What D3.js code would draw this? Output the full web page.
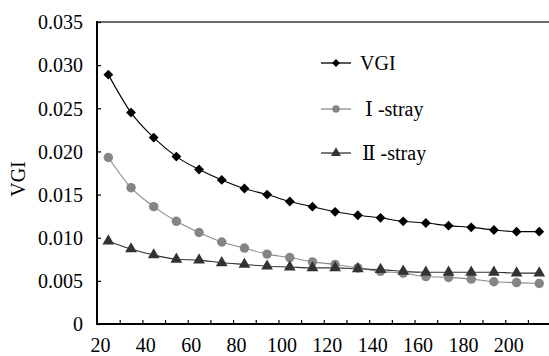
<!DOCTYPE html>
<html>
<head>
<meta charset="utf-8">
<script src="https://cdn.jsdelivr.net/npm/d3@7"></script>
<style>
  html, body { margin: 0; padding: 0; background: #fff; }
  svg { display: block; }
  text { font-family: "Liberation Serif", "Times New Roman", "DejaVu Serif", serif; fill: #000; }
</style>
</head>
<body>
<svg id="chart" width="549" height="356"></svg>
<script>
const xValues = [25, 35, 45, 55, 65, 75, 85, 95, 105, 115, 125, 135, 145, 155, 165, 175, 185, 195, 205, 215];
const vgi     = [0.0289, 0.0245, 0.0216, 0.0194, 0.0179, 0.0167, 0.0157, 0.0150, 0.0142, 0.0136, 0.0130, 0.0126, 0.0123, 0.0119, 0.0117, 0.0114, 0.0112, 0.0109, 0.0107, 0.0107];
const stray1  = [0.0193, 0.0158, 0.0136, 0.0119, 0.0106, 0.0095, 0.0088, 0.0081, 0.0077, 0.0072, 0.0069, 0.0065, 0.0061, 0.0059, 0.0055, 0.0054, 0.0052, 0.0049, 0.0048, 0.0047];
const stray2  = [0.0096, 0.0087, 0.0080, 0.0075, 0.0074, 0.0071, 0.0069, 0.0067, 0.0066, 0.0065, 0.0065, 0.0064, 0.0063, 0.0061, 0.0060, 0.0060, 0.0060, 0.0060, 0.0059, 0.0059];
const seriesNames = ["VGI", "\u2160 -stray", "\u2161 -stray"];
const yTicks = [0, 0.005, 0.010, 0.015, 0.020, 0.025, 0.030, 0.035];
const yTickLabels = ["0", "0.005", "0.010", "0.015", "0.020", "0.025", "0.030", "0.035"];
const xMinorTicks = d3.range(30, 220, 10);
const xLabelTicks = [20, 40, 60, 80, 100, 120, 140, 160, 180, 200];
const yTitle = "VGI";

const svg = d3.select("#chart");
const plotLeft = 97, plotTop = 22, plotBottom = 324;
const x = d3.scaleLinear().domain([20, 220]).range([plotLeft, plotLeft + 200 * 2.268]);
const y = d3.scaleLinear().domain([0, 0.035]).range([plotBottom, plotTop]);

// top border
svg.append("line").attr("x1", plotLeft).attr("x2", 549).attr("y1", plotTop).attr("y2", plotTop)
  .attr("stroke", "#3a3a3a").attr("stroke-width", 1.6);

// Y axis
const yAxis = svg.append("g").attr("transform", `translate(${plotLeft},0)`)
  .call(d3.axisLeft(y).tickValues(yTicks).tickSize(-4).tickPadding(14)
    .tickFormat((d, i) => yTickLabels[i]));
yAxis.select(".domain").remove();
yAxis.selectAll(".tick line").attr("stroke", "#000").attr("stroke-width", 1.2);
yAxis.selectAll(".tick text").attr("font-size", 20).attr("dy", "0.34em")
  .style("font-family", '"Liberation Serif", "Times New Roman", serif');
svg.append("line").attr("x1", plotLeft).attr("x2", plotLeft).attr("y1", plotTop - 1).attr("y2", plotBottom + 1)
  .attr("stroke", "#000").attr("stroke-width", 2);

// X axis
const xAxis = svg.append("g").attr("transform", `translate(0,${plotBottom})`)
  .call(d3.axisBottom(x).tickValues(xMinorTicks).tickSize(-4).tickFormat(""));
xAxis.select(".domain").remove();
xAxis.selectAll(".tick line").attr("stroke", "#000").attr("stroke-width", 1.2);
const xLab = svg.append("g").attr("transform", `translate(0,${plotBottom})`)
  .call(d3.axisBottom(x).tickValues(xLabelTicks).tickSize(0).tickPadding(14).tickFormat(d3.format("d")));
xLab.select(".domain").remove();
xLab.selectAll(".tick text").attr("font-size", 20).attr("dx", 3)
  .style("font-family", '"Liberation Serif", "Times New Roman", serif');
svg.append("line").attr("x1", plotLeft - 1).attr("x2", 549).attr("y1", plotBottom).attr("y2", plotBottom)
  .attr("stroke", "#000").attr("stroke-width", 2);

// Y title
svg.append("text").attr("transform", "translate(25,179) rotate(-90)")
  .attr("text-anchor", "middle").attr("font-size", 20).text(yTitle);

const line = d3.line().x(d => x(d[0])).y(d => y(d[1])).curve(d3.curveMonotoneX);
const styles = [
  { data: vgi, color: "#000", lineColor: "#000", shape: d3.symbolDiamond2, size: 62, lsize: 40 },
  { data: stray1, color: "#858585", lineColor: "#8a8a8a", shape: d3.symbolCircle, size: 70, lsize: 42 },
  { data: stray2, color: "#333", lineColor: "#333", shape: d3.symbolTriangle, size: 60, lsize: 44 }
];

styles.forEach(s => {
  const pts = xValues.map((xv, i) => [xv, s.data[i]]);
  svg.append("path").datum(pts).attr("d", line).attr("fill", "none")
    .attr("stroke", s.lineColor).attr("stroke-width", 1.1);
});
styles.forEach(s => {
  const pts = xValues.map((xv, i) => [xv, s.data[i]]);
  svg.append("g").selectAll("path").data(pts).join("path")
    .attr("transform", d => `translate(${x(d[0])},${y(d[1])})`)
    .attr("d", d3.symbol().type(s.shape).size(s.size))
    .attr("fill", s.color);
});

// legend
const legendRows = [63, 109, 153];
const legendTextX = [360, 365, 362];
styles.forEach((s, i) => {
  const g = svg.append("g").attr("transform", `translate(0,${legendRows[i]})`);
  g.append("line").attr("x1", 321).attr("x2", 351).attr("y1", 0).attr("y2", 0)
    .attr("stroke", s.lineColor).attr("stroke-width", 1.3);
  g.append("path").attr("transform", "translate(336,0)")
    .attr("d", d3.symbol().type(s.shape).size(s.lsize)).attr("fill", s.color);
  g.append("text").attr("x", legendTextX[i]).attr("y", 0).attr("dy", "0.33em")
    .attr("font-size", 20).text(seriesNames[i]);
});
</script>
</body>
</html>
